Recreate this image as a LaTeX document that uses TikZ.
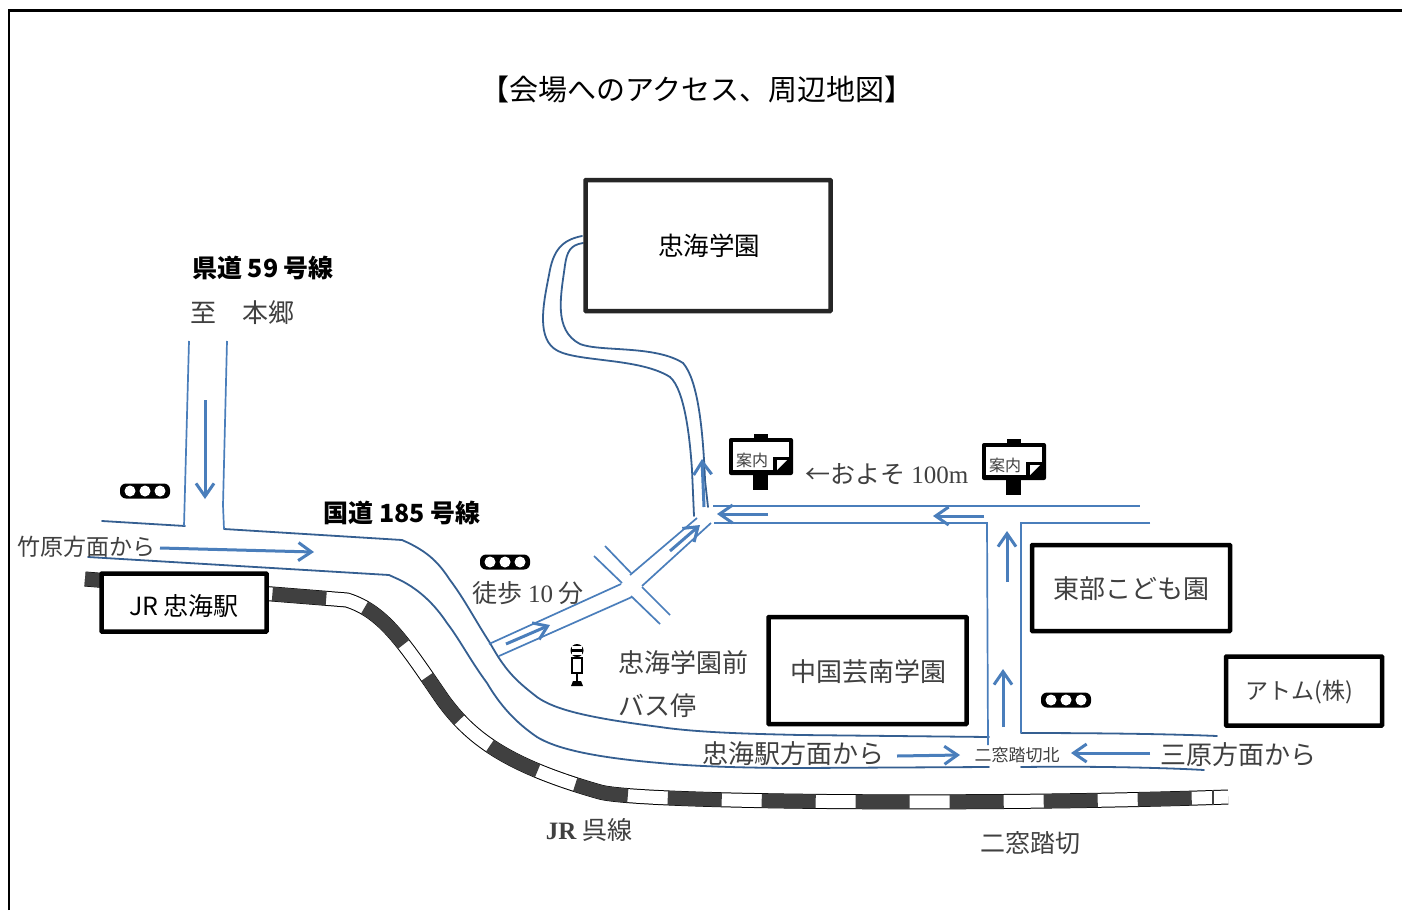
\documentclass[tikz,border=0pt]{standalone}
\usepackage{fontspec}
\setmainfont{Noto Sans CJK JP}
\newfontfamily\latinserif{Liberation Serif}
\usetikzlibrary{arrows.meta,calc}
\definecolor{arrowblue}{HTML}{4A7EBB}
\definecolor{roadblue}{HTML}{355F91}
\definecolor{raildark}{HTML}{404040}
\definecolor{greytext}{HTML}{404040}
\tikzset{
  road/.style={draw=roadblue,line width=1.8pt,line cap=round},
  lane/.style={draw=arrowblue,line width=1.7pt},
  flow/.style={draw=arrowblue,line width=3pt,-{Straight Barb[length=13pt,width=18pt,line width=3pt]}},
  building/.style={draw=black,line width=4.5pt,fill=white,rounded corners=0.5pt},
  label/.style={font=\fontsize{26}{28}\selectfont,text=greytext,inner sep=0pt,yshift=-1pt},
  boldlabel/.style={font=\fontsize{25}{27}\selectfont,inner sep=0pt,text=black,yshift=-1pt},
  boxlabel/.style={font=\fontsize{25.5}{28}\selectfont,inner sep=0pt,text=black,yshift=-1pt},
}
\begin{document}
\begin{tikzpicture}[x=1pt,y=-1pt]
\useasboundingbox (0,0) rectangle (1402,910);
\fill[white] (0,0) rectangle (1402,910);
\draw[black,line width=2.4pt] (9,910) -- (9,10.5) -- (1402,10.5);

% rail
\def\railpath{(85,579) -- (347,600) .. controls (385,612) and (405,645) .. (443,700) .. controls (470,737) and (505,765) .. (600,792) .. controls (640,803) and (1000,805) .. (1228,797)}
\draw[black,line width=15pt] \railpath;
\draw[white,line width=13pt] \railpath;
\draw[raildark,line width=14pt,dash pattern=on 54pt off 40pt] \railpath;
\draw[raildark,line width=2pt] (1213,790) -- (1213,805);

% title
\node[font=\fontsize{29}{31}\selectfont,inner sep=0pt] (title) at (697,89) {【会場へのアクセス、周辺地図】};

% roads: main
\draw[road] (102,521) -- (185,526);
\draw[road] (224,529) -- (402,540) .. controls (430,552) and (440,565) .. (450,580) .. controls (465,600) and (475,620) .. (490,643) .. controls (505,670) and (515,680) .. (537,697) .. controls (555,710) and (590,718) .. (660,727) .. controls (700,733) and (760,734) .. (800,735) -- (989,737);
\draw[road] (1021,733) .. controls (1100,733) and (1170,734) .. (1217,736);
\draw[road] (88,557) -- (389,575) -- (400,580) .. controls (420,590) and (435,605) .. (447,623) .. controls (460,640) and (470,660) .. (487,683) .. controls (500,705) and (515,722) .. (537,737) .. controls (555,748) and (590,757) .. (660,763) .. controls (700,767) and (760,768) .. (800,768) -- (989,767);
\draw[road] (1021,767) .. controls (1100,766) and (1170,768) .. (1204,770);
% road to school
\draw[road] (582,236) .. controls (562,240) and (553,250) .. (549,275) .. controls (543,305) and (536,340) .. (558,351) .. controls (580,362) and (640,358) .. (670,377) .. controls (685,390) and (690,440) .. (692,470) -- (694,516);
\draw[road] (583,243) .. controls (570,245) and (567,252) .. (565,265) .. controls (561,295) and (553,330) .. (580,344) .. controls (600,352) and (655,345) .. (683,363) .. controls (698,380) and (703,430) .. (705,480) -- (708,507);

% lanes
\draw[lane] (189,341) -- (184,526);
\draw[lane] (227,341) -- (223,505) -- (224,529);
% walking road
\draw[lane] (489,644) -- (621,584);
\draw[lane] (499,656) -- (632,597);
\draw[lane] (630,575) -- (697,518);
\draw[lane] (642,586) -- (711,523);
\draw[lane] (594,556) -- (622,583);
\draw[lane] (605,546) -- (631,573);
\draw[lane] (642,587) -- (670,615);
\draw[lane] (631,596) -- (660,624);
% east road
\draw[lane] (713,506) -- (1140,506);
\draw[lane] (714,523) -- (987,523) -- (988,745);
\draw[lane] (1150,523) -- (1021,523) -- (1021,733);

% arrows
\coordinate (a1s) at (205,400); \coordinate (a1e) at (205,499);
\draw[flow] (a1s) -- (a1e);
\coordinate (a2s) at (160,548); \coordinate (a2e) at (314,552);
\draw[flow] (a2s) -- (a2e);
\coordinate (a3s) at (506,644); \coordinate (a3e) at (550,625);
\draw[flow] (a3s) -- (a3e);
\coordinate (a4s) at (670,551); \coordinate (a4e) at (700,525);
\draw[flow] (a4s) -- (a4e);
\coordinate (a5s) at (704,507); \coordinate (a5e) at (702,459);
\draw[flow] (a5s) -- (a5e);
\coordinate (a6s) at (768,514); \coordinate (a6e) at (717,514);
\draw[flow] (a6s) -- (a6e);
\coordinate (a7s) at (984,516); \coordinate (a7e) at (933,516);
\draw[flow] (a7s) -- (a7e);
\coordinate (a8s) at (1007,582); \coordinate (a8e) at (1007,531);
\draw[flow] (a8s) -- (a8e);
\coordinate (a9s) at (1003,727); \coordinate (a9e) at (1003,669);
\draw[flow] (a9s) -- (a9e);
\coordinate (a10s) at (897,756); \coordinate (a10e) at (960,755);
\draw[flow] (a10s) -- (a10e);
\coordinate (a11s) at (1150,753); \coordinate (a11e) at (1071,753);
\draw[flow] (a11s) -- (a11e);

% buildings
\node[building,draw=black!85,minimum width=245pt,minimum height=131pt] (school) at (708,245.5) {};
\node[boxlabel] (schooll) at (709,245) {忠海学園};
\node[building,minimum width=165pt,minimum height=58pt] (station) at (184,602.5) {};
\node[font=\fontsize{25}{27}\selectfont,inner sep=0pt] (stationl) at (184,606) {JR 忠海駅};
\node[building,minimum width=198pt,minimum height=107pt] (geinan) at (867.5,670.5) {};
\node[label] (geinanl) at (868,671) {中国芸南学園};
\node[building,minimum width=198pt,minimum height=86pt] (kodomo) at (1131,588) {};
\node[label] (kodomol) at (1131,588) {東部こども園};
\node[building,minimum width=156pt,minimum height=69pt] (atom) at (1304,691) {};
\node[label,font=\fontsize{23}{26}\selectfont] (atoml) at (1299,691) {アトム(株)};

% labels
\node[boldlabel] (kendo) at (263,267) {\bfseries 県道 59 号線};
\node[label] (itaru) at (242,312) {至\hspace{1em}本郷};
\node[boldlabel] (kokudo) at (402,512) {\bfseries 国道 185 号線};
\node[label,font=\fontsize{23}{26}\selectfont] (takehara) at (86,546) {竹原方面から};
\node[label,font=\fontsize{25}{27}\selectfont] (toho) at (528,592) {徒歩 {\latinserif 10} 分};
\node[label] (stop1) at (683,662) {忠海学園前};
\node[label] (stop2) at (657,705) {バス停};
\node[label,font=\fontsize{25}{27}\selectfont] (oyoso) at (887,473) {←およそ {\latinserif 100m}};
\node[label] (tadanoumi) at (793,753) {忠海駅方面から};
\node[font=\fontsize{17}{19}\selectfont,fill=white,inner sep=1pt,text=greytext] (kita) at (1017,755) {二窓踏切北};
\node[label] (mihara) at (1238,754) {三原方面から};
\node[label,font=\fontsize{25}{27}\selectfont] (kure) at (589,829) {{\latinserif\bfseries JR} 呉線};
\node[label,font=\fontsize{25}{27}\selectfont] (futamado) at (1030,842) {二窓踏切};

% signals
\foreach \cx/\cy in {145/491,505/562,1066/700}{
  \fill[black,rounded corners=6pt] (\cx-25,\cy-7.5) rectangle (\cx+25,\cy+7.5);
  \foreach \d in {-15,0,15} \fill[white] (\cx+\d,\cy) circle (5.5pt);
}

% info boards
\foreach \bx/\by/\nm in {761/461/boarda,1014/466/boardb}{
  \fill[black,rounded corners=2pt] (\bx-32,\by-23) rectangle (\bx+32,\by+14);
  \fill[black] (\bx-7,\by-27) rectangle (\bx+7,\by-22);
  \fill[black] (\bx-8,\by+14) rectangle (\bx+7,\by+29);
  \fill[white] (\bx-28,\by-19) rectangle (\bx+28,\by-4);
  \fill[white] (\bx-28,\by-4) rectangle (\bx+12,\by+9);
  \fill[white] (\bx+16,\by+9) -- (\bx+26,\by-1) -- (\bx+16,\by-1) -- cycle;
  \node[font=\fontsize{16}{18}\selectfont,inner sep=0pt,text=greytext] (\nm) at (\bx-9,\by-1) {案内};
}

% bus stop
\fill[black] (577,650.5) circle (6.5pt);
\fill[white] (572,645.5) rectangle (582,648.5);
\fill[white] (572,652) rectangle (582,655);
\draw[black,line width=1.5pt] (572,658) rectangle (582,673);
\draw[black,line width=1.5pt] (577,673) -- (577,683);
\fill[black] (571,686) -- (573,681) -- (581,681) -- (583,686) -- cycle;
\end{tikzpicture}
\end{document}
